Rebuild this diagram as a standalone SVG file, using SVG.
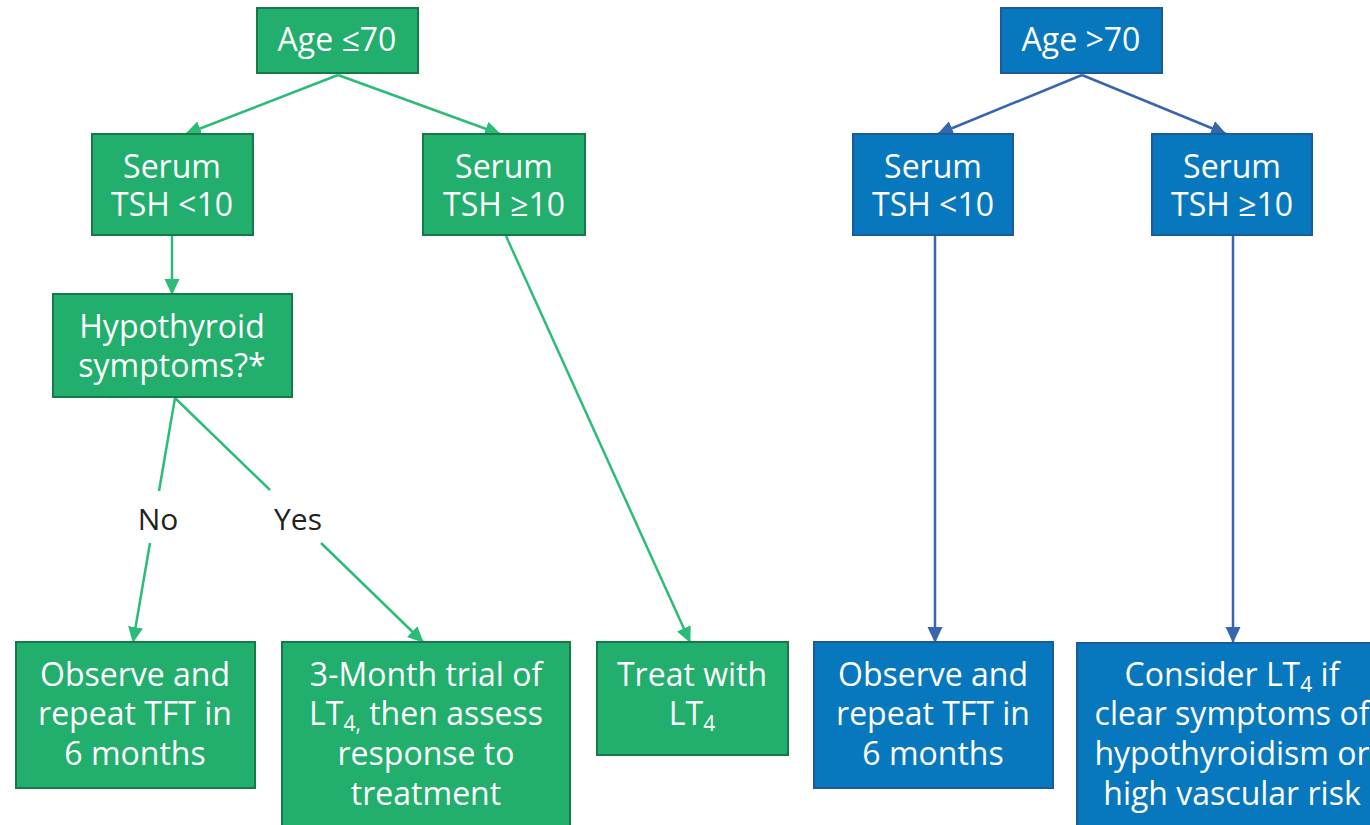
<svg xmlns="http://www.w3.org/2000/svg" width="1370" height="825" viewBox="0 0 1370 825">
<style>
.g rect{fill:#22ae6c;stroke:#16794a;stroke-width:2}
.b rect{fill:#0878be;stroke:#1d5a9c;stroke-width:2}
text{font-family:"Open Sans","Noto Sans","DejaVu Sans",sans-serif;font-size:32px;fill:#ffffff;text-anchor:middle}
.lbl{fill:#222222;font-size:30px}
.gl{fill:none;stroke:#2dbb78;stroke-width:2.5}
.bl{fill:none;stroke:#3866ae;stroke-width:2.5}
.sub{font-size:21px}
</style>
<defs>
<marker id="ag" markerUnits="userSpaceOnUse" markerWidth="16" markerHeight="16" viewBox="0 0 16 16" refX="15" refY="8" orient="auto"><path d="M0,0.5 L16,8 L0,15.5 z" fill="#2dbb78"/></marker>
<marker id="ab" markerUnits="userSpaceOnUse" markerWidth="16" markerHeight="16" viewBox="0 0 16 16" refX="15" refY="8" orient="auto"><path d="M0,0.5 L16,8 L0,15.5 z" fill="#3866ae"/></marker>
</defs>
<rect width="1370" height="825" fill="#ffffff"/>
<g id="connectors">
<path class="gl" d="M338,75 L186,134" marker-end="url(#ag)"/>
<path class="gl" d="M338,75 L500,134" marker-end="url(#ag)"/>
<path class="gl" d="M172,236 L172,294" marker-end="url(#ag)"/>
<path class="gl" d="M506,236 L690,642" marker-end="url(#ag)"/>
<path class="gl" d="M175,398 L159,491"/>
<path class="gl" d="M150,543 L133,642" marker-end="url(#ag)"/>
<path class="gl" d="M175,398 L270,490"/>
<path class="gl" d="M321,543 L423,642" marker-end="url(#ag)"/>
<path class="bl" d="M1082,75 L938,134" marker-end="url(#ab)"/>
<path class="bl" d="M1082,75 L1226,134" marker-end="url(#ab)"/>
<path class="bl" d="M935,236 L935,642" marker-end="url(#ab)"/>
<path class="bl" d="M1233,236 L1233,642" marker-end="url(#ab)"/>
<text class="lbl" x="158" y="530">No</text>
<text class="lbl" x="298" y="530">Yes</text>
</g>
<g id="age-le70" class="g"><rect x="257" y="8" width="161" height="65"/><text x="337" y="51">Age ≤70</text></g>
<g id="tsh-lt10-g" class="g"><rect x="92" y="134" width="161" height="101"/><text x="172" y="178">Serum</text><text x="172" y="216">TSH &lt;10</text></g>
<g id="tsh-ge10-g" class="g"><rect x="423" y="134" width="162" height="101"/><text x="504" y="178">Serum</text><text x="504" y="216">TSH ≥10</text></g>
<g id="hypo" class="g"><rect x="53" y="294" width="239" height="103"/><text x="172" y="338">Hypothyroid</text><text x="172" y="377">symptoms?*</text></g>
<g id="observe-g" class="g"><rect x="16" y="642" width="239" height="146"/><text x="135" y="686">Observe and</text><text x="135" y="725">repeat TFT in</text><text x="135" y="765">6 months</text></g>
<g id="trial" class="g"><rect x="282" y="642" width="288" height="200"/><text x="426" y="686">3-Month trial of</text><text x="426" y="725">LT<tspan class="sub" dy="6">4,</tspan><tspan dy="-6"> then assess</tspan></text><text x="426" y="765">response to</text><text x="426" y="805">treatment</text></g>
<g id="treat" class="g"><rect x="597" y="642" width="191" height="113"/><text x="692" y="686">Treat with</text><text x="692" y="725">LT<tspan class="sub" dy="6">4</tspan></text></g>
<g id="age-gt70" class="b"><rect x="1001" y="8" width="161" height="65"/><text x="1081" y="51">Age &gt;70</text></g>
<g id="tsh-lt10-b" class="b"><rect x="853" y="134" width="160" height="101"/><text x="933" y="178">Serum</text><text x="933" y="216">TSH &lt;10</text></g>
<g id="tsh-ge10-b" class="b"><rect x="1152" y="134" width="160" height="101"/><text x="1232" y="178">Serum</text><text x="1232" y="216">TSH ≥10</text></g>
<g id="observe-b" class="b"><rect x="814" y="642" width="239" height="146"/><text x="933" y="686">Observe and</text><text x="933" y="725">repeat TFT in</text><text x="933" y="765">6 months</text></g>
<g id="consider" class="b"><rect x="1077" y="643" width="320" height="200"/><text x="1232" y="686">Consider LT<tspan class="sub" dy="6">4</tspan><tspan dy="-6"> if</tspan></text><text x="1232" y="725">clear symptoms of</text><text x="1232" y="765">hypothyroidism or</text><text x="1232" y="805">high vascular risk</text></g>
</svg>
